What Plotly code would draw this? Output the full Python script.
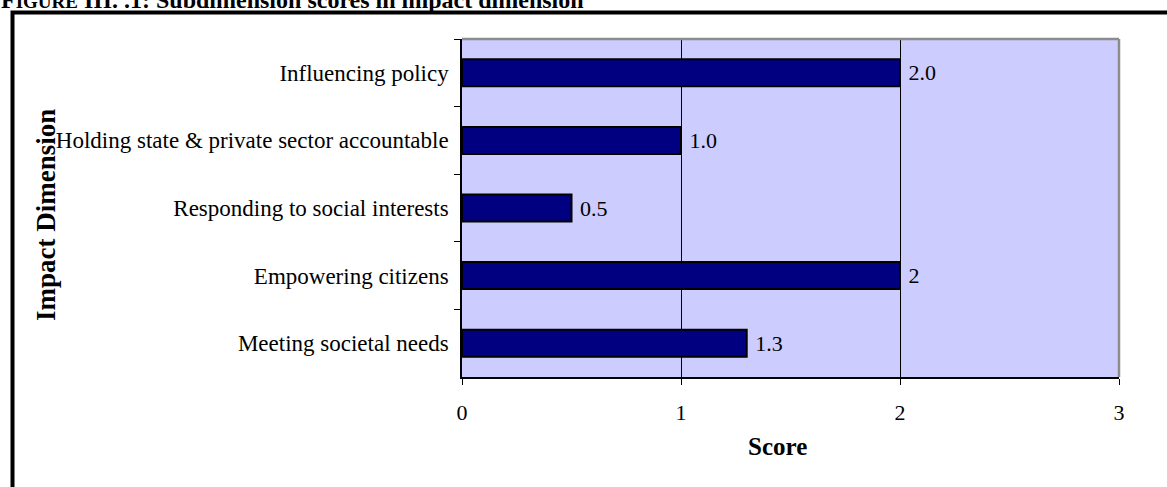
import plotly.graph_objects as go

# Impact dimension sub-scores
categories = [
    "Influencing policy",
    "Holding state & private sector accountable",
    "Responding to social interests",
    "Empowering citizens",
    "Meeting societal needs",
]
scores = [2.0, 1.0, 0.5, 2.0, 1.3]
label_decimals = [1, 1, 1, 0, 1]
x_ticks = [0, 1, 2, 3]

labels = [f"{v:.{d}f}" for v, d in zip(scores, label_decimals)]

W, H = 1167, 487
L, R, T, B = 462, 48, 39, 110
PW, PH = W - L - R, H - T - B


def px_x(q):
    return (q - L) / PW


def px_y(p):
    return (H - B - p) / PH


SERIF = "Liberation Serif, Times New Roman, serif"

fig = go.Figure(
    go.Bar(
        x=scores,
        y=categories,
        orientation="h",
        width=0.4,
        marker=dict(color="#000080", line=dict(color="black", width=2)),
        text=labels,
        texttemplate="\u00a0%{text}",
        textposition="outside",
        textfont=dict(family=SERIF, size=22, color="black"),
        cliponaxis=False,
        hoverinfo="skip",
    )
)

fig.update_layout(
    width=W,
    height=H,
    margin=dict(l=L, r=R, t=T, b=B, pad=0),
    paper_bgcolor="white",
    plot_bgcolor="#CCCCFF",
    showlegend=False,
    font=dict(family=SERIF, size=23, color="black"),
    xaxis=dict(
        range=[0, 3],
        tickvals=x_ticks,
        ticktext=[str(t) for t in x_ticks],
        showgrid=True,
        gridcolor="black",
        gridwidth=1,
        zeroline=False,
        showline=True,
        linecolor="black",
        linewidth=1.5,
        ticks="outside",
        ticklen=6,
        tickcolor="black",
        tickfont=dict(family=SERIF, size=22),
        ticklabelstandoff=9,
    ),
    yaxis=dict(
        autorange="reversed",
        showgrid=False,
        zeroline=False,
        showline=True,
        linecolor="black",
        linewidth=1.5,
        ticks="outside",
        tickson="boundaries",
        ticklen=6,
        tickcolor="black",
        tickfont=dict(family=SERIF, size=23),
        ticklabelstandoff=7,
    ),
    shapes=[
        # grey top and right border of the plot area
        dict(type="line", xref="paper", yref="paper", x0=0, x1=1, y0=1, y1=1,
             line=dict(color="#8c8c8c", width=2.5), layer="above"),
        dict(type="line", xref="paper", yref="paper", x0=1, x1=1, y0=0, y1=1,
             line=dict(color="#8c8c8c", width=2.5), layer="above"),
        # outer black frame around the figure
        dict(type="rect", xref="paper", yref="paper",
             x0=px_x(12.5), x1=px_x(1185), y0=px_y(505), y1=px_y(12.5),
             line=dict(color="black", width=4), layer="above"),
    ],
    annotations=[
        dict(
            text="F<span style='font-size:19px'>IGURE</span> III. .1: Subdimension scores in impact dimension",
            xref="paper", yref="paper", x=px_x(-1), y=px_y(15),
            xanchor="left", yanchor="bottom", showarrow=False,
            font=dict(family=SERIF, size=24, color="black", weight="bold"),
        ),
        dict(
            text="<b>Impact Dimension</b>",
            xref="paper", yref="paper", x=px_x(46), y=px_y(215),
            xanchor="center", yanchor="middle", textangle=-90, showarrow=False,
            font=dict(family=SERIF, size=27, color="black"),
        ),
        dict(
            text="<b>Score</b>",
            xref="paper", yref="paper", x=px_x(777), y=px_y(446),
            xanchor="center", yanchor="middle", showarrow=False,
            font=dict(family=SERIF, size=25, color="black"),
        ),
    ],
)

fig.write_html("out.html")
